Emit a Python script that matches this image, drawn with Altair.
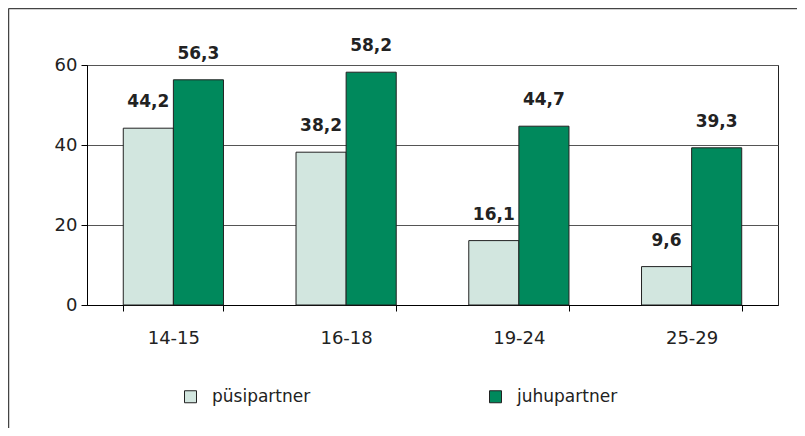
import altair as alt
import pandas as pd

groups = ["14-15", "16-18", "19-24", "25-29"]
series = ["püsipartner", "juhupartner"]
pusi = [44.2, 38.2, 16.1, 9.6]
juhu = [56.3, 58.2, 44.7, 39.3]
colors = ["#d2e6df", "#00895c"]
y_ticks = [0, 20, 40, 60]

rows = []
for g, p, j in zip(groups, pusi, juhu):
    rows.append({"group": g, "series": series[0], "value": p})
    rows.append({"group": g, "series": series[1], "value": j})
df = pd.DataFrame(rows)

FONT = "DejaVu Sans"

x = alt.X(
    "group:N", sort=groups,
    scale=alt.Scale(paddingInner=0.42, paddingOuter=0.21),
    axis=alt.Axis(title=None, labelAngle=0, tickBand="extent", tickSize=6,
                  labelPadding=18, labelFontSize=18, labelFont=FONT,
                  labelColor="#222", domainColor="#000", tickColor="#000",
                  grid=False),
)
xo = alt.XOffset("series:N", sort=series,
                 scale=alt.Scale(paddingInner=0, paddingOuter=0))
y = alt.Y(
    "value:Q",
    scale=alt.Scale(domain=[0, 60], nice=False),
    axis=alt.Axis(title=None, values=y_ticks, grid=True, gridColor="#555",
                  tickSize=6, labelPadding=4, labelFontSize=18, labelFont=FONT,
                  labelColor="#222", domainColor="#000", tickColor="#000"),
)

base = alt.Chart(df)

bars = base.mark_bar(stroke="#222", strokeWidth=1).encode(
    x=x, xOffset=xo, y=y,
    fill=alt.Fill(
        "series:N", sort=series,
        scale=alt.Scale(domain=series, range=colors),
        legend=alt.Legend(
            title=None, orient="none", legendX=95, legendY=323,
            direction="horizontal", columnPadding=176, labelOffset=13,
            symbolSize=144, symbolType="square", symbolStrokeColor="#222",
            symbolStrokeWidth=1, symbolOpacity=1, labelFontSize=17,
            labelFont=FONT, labelColor="#222",
        ),
    ),
)

labels = base.transform_calculate(
    lab="replace(format(datum.value, '.1f'), '.', ',')"
).mark_text(dy=-21, baseline="alphabetic", fontSize=17, fontWeight="bold",
            font=FONT, color="#222").encode(
    x=x, xOffset=xo, y=y, text="lab:N"
)

frame_df = pd.DataFrame({"k": [0]})
left_line = alt.Chart(frame_df).mark_rule(color="#444", strokeWidth=1.5).encode(
    x=alt.value(-78.5), y=alt.value(-56.5), y2=alt.value(380)
)
top_line = alt.Chart(frame_df).mark_rule(color="#444", strokeWidth=1.5).encode(
    x=alt.value(-78.5), x2=alt.value(710), y=alt.value(-56.5)
)

chart = alt.layer(bars, labels, left_line, top_line).properties(
    width=691, height=240,
    autosize=alt.AutoSizeParams(type="none"),
    padding={"left": 79, "top": 57, "right": 19, "bottom": 123},
).configure_view(stroke="#222", strokeWidth=1)

chart.save("out.html", embed_options={"renderer": "svg", "actions": False})
